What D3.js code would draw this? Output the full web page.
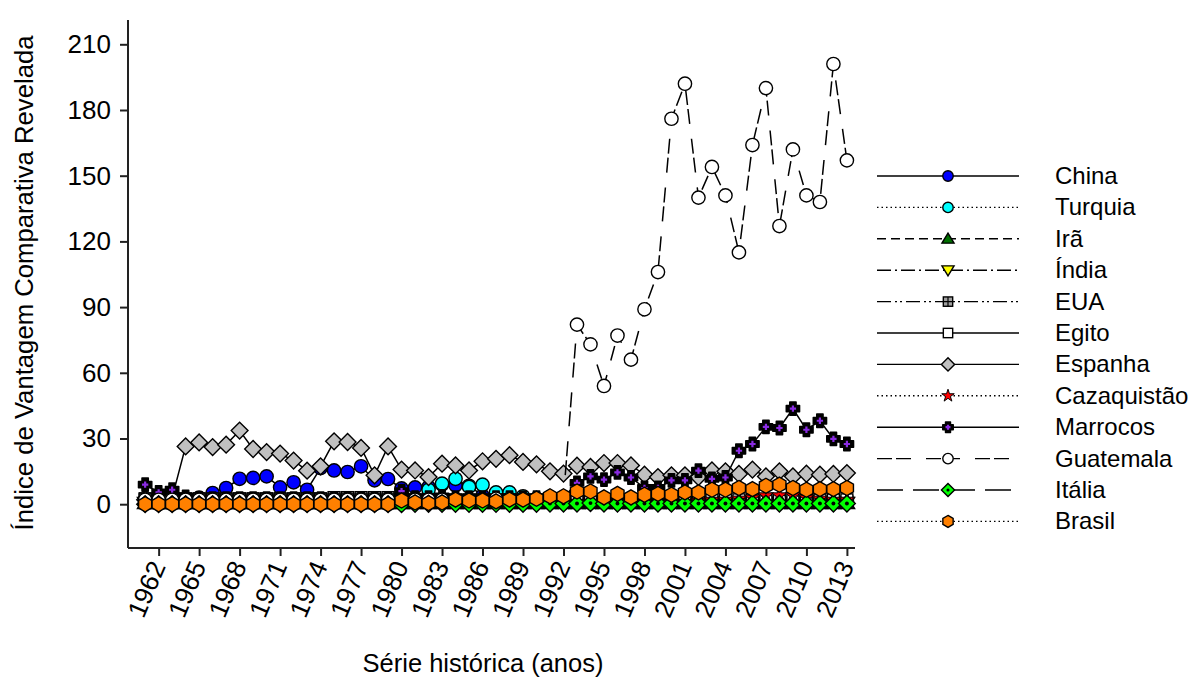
<!DOCTYPE html>
<html><head><meta charset="utf-8">
<script src="https://cdn.jsdelivr.net/npm/d3@7/dist/d3.min.js"></script>
<style>
body{margin:0;background:#fff;}
text{font-family:"Liberation Sans",Arial,sans-serif;fill:#000;}
</style></head>
<body><svg id="c" width="1194" height="684"></svg>
<script>
// ---------- DATA ----------
const years = d3.range(1961, 2014);
const seriesNames = ["China","Turquia","Irã","Índia","EUA","Egito","Espanha","Cazaquistão","Marrocos","Guatemala","Itália","Brasil"];
const china = [2,2,2,2,3,5.1,7.4,11.6,12.0,12.7,7.7,10.0,6.6,16.5,15.4,14.7,17.3,10.9,11.5,7.2,7.7,7.9,9.0,8.6,8.4,3.9,2.0,1.5,1.5,1.5,1.2,1.2,1.2,1.2,1,1,1,1,1,1,1,1,1,1,1,1,1,1,1,1,1,1,1];
const turquia = [1,1,1,1,1,1,1,1,1,1,1,1,1,1,1,1,1,1,1,1,1.5,6.6,9.4,11.6,7.9,8.9,5.4,5.4,3.6,2.5,2,2,2,2,2,1.5,1.5,1.5,1.5,1.5,1.5,1.5,1.5,1.5,1.5,1.5,1.5,1.5,1.5,1.5,1.5,1.5,1.5];
const ira = [0.5,0.5,0.5,0.5,0.5,0.5,0.5,0.5,0.5,0.5,0.5,0.5,0.5,0.5,0.5,0.5,0.5,0.5,0.5,0.5,0.5,0.5,0.5,0.5,0.5,0.5,0.5,0.5,0.5,0.5,0.5,0.5,0.5,0.5,0.5,0.5,0.5,0.5,0.5,0.5,0.5,0.5,0.5,0.5,0.5,0.5,0.5,0.5,0.5,0.5,0.5,0.5,0.5];
const india = [0.6,0.6,0.6,0.6,0.6,0.6,0.6,0.6,0.6,0.6,0.6,0.6,0.6,0.6,0.6,0.6,0.6,0.6,0.6,0.6,0.6,0.6,0.6,0.6,0.6,0.6,0.6,0.6,0.6,0.6,0.6,0.6,0.6,0.6,0.6,0.6,0.6,0.6,0.6,0.6,0.6,0.6,0.6,0.6,0.6,0.6,0.6,0.6,0.6,0.6,0.6,0.6,0.6];
const eua = [2.5,2.5,2.5,2.5,2.5,2.5,2.5,2.5,2.5,2.5,2.5,2.5,2.5,2.5,3,3,3,3,3,2.5,2,2,2,1.5,1.5,1.5,1.5,1.5,1.2,1.2,1.2,1.2,1.2,1,1,1,1,1,1,1,1,1,1,1,1,1,1,1,1,1,1,1,1];
const egito = [2,2,2,2,2,2,2,2,2,2,2,2,2,2,2,2,2,2,2,2,2,2,2,2,2,2,2,2,2,2,2,2,2,2,2,2,2,2,2,2,2,2,2,2,2,2,2,2,2,2,2,2,2];
const espanha = [2,2,3,26.4,28.2,26.1,27.2,33.6,25.2,23.8,23.1,19.9,15.3,17.3,28.7,28.4,25.7,13.2,26.4,15.8,15.4,12.4,18.5,17.7,15.4,19.6,20.7,22.4,19.3,18.2,15.0,14.0,17.6,17.0,18.8,18.8,17.7,13.5,12.4,13.2,13.2,12.4,15.4,15.0,13.8,15.8,12.7,15.0,12.7,13.9,13.5,13.8,14.2];
const cazaquistao = [null,null,null,null,null,null,null,null,null,null,null,null,null,null,null,null,null,null,null,null,null,null,null,null,null,null,null,null,null,null,null,1,1,1,1,1,1,1,1,1,1,1.5,2,2,2.5,3,4,4,4,3,2.5,2,2];
const marrocos = [8.9,5.4,6.6,3.3,2.5,2.5,2.5,2.5,2.5,2.5,2.5,2.5,2.5,2.5,2.5,2.5,2.5,2.5,2.5,6.0,3.0,3.0,3.6,3,3,3,3,3,3,3,3,3,9.7,12.7,11.2,14.5,12.2,7.4,7.4,10.9,10.9,15.3,11.6,12.2,24.4,27.5,35.3,34.8,43.6,34.0,38.1,29.8,27.5];
const guatemala = [2,2,2,2,2,2,2,2,2,2,2,2,2,2,2,2,2,2,2,2,2,2,2,2,2,2,2.5,2.5,2.5,2.5,3,3,82,73,54,77,66,89,106,176,192,140,154,141,115,164,190,127,162,141,138,201,157];
const italia = [0,0,0,0,0,0,0,0,0,0,0,0,0,0,0,0,0,0,0,0,0.2,0.2,0.2,0.2,0.2,0.2,0.2,0.2,0.2,0.2,0.3,0.3,0.3,0.5,0.3,0.3,0.3,0.3,0.3,0.3,0.3,0.3,0.3,0.3,0.3,0.3,0.3,0.3,0.3,0.3,0.3,0.3,0.3];
const brasil = [0,0,0,0,0,0,0,0,0,0,0,0,0,0,0,0,0,0,0,1.7,0.8,0.5,0.8,2.1,1.7,1.7,1.3,2.1,2.1,2.5,3.6,3.6,5.8,5.8,3.1,4.7,3.1,4.3,4.7,4.3,5.4,5.4,6.6,6.6,7.4,6.9,8.4,8.9,7.4,6.6,6.9,6.9,7.4];
const yTicks = [0,30,60,90,120,150,180,210];
const xTicks = d3.range(1962, 2014, 3);
const yTitle = "Índice de Vantagem Comparativa Revelada";
const xTitle = "Série histórica (anos)";

// ---------- STYLES ----------
const seriesValues = [china,turquia,ira,india,eua,egito,espanha,cazaquistao,marrocos,guatemala,italia,brasil];
const dashes = ["none","1.5,3","9,5","14,4,2,4","14,4,2,3,2,4","none","none","1.5,3","none","15,4,15,15","26,10","1.5,3"];
const markers = ["circle","circle","tri","tridown","gridsq","square","diamond","star","cross","circle","gdiamond","hexagon"];
const fills = ["#0000ff","#00ffff","#007000","#ffff00","#a0a0a0","#ffffff","#c0c0c0","#ff0000","#000000","#ffffff","#00ff00","#ff8000"];

const svg = d3.select("#c");
const x = d3.scaleLinear().domain([1959.73, 2013.6]).range([128, 855]);
const y = d3.scaleLinear().domain([-20, 220]).range([548, 22.4]);

function drawMarker(g, type, fill, s){
  const sw = 1.4;
  if(type==="circle"){
    g.append("circle").attr("r", s*0.95).attr("fill",fill).attr("stroke","#000").attr("stroke-width",sw);
  } else if(type==="square" || type==="gridsq"){
    const h = s*0.85;
    g.append("rect").attr("x",-h).attr("y",-h).attr("width",2*h).attr("height",2*h).attr("fill",fill).attr("stroke","#000").attr("stroke-width",sw);
    if(type==="gridsq"){
      g.append("path").attr("d",`M${-h},0H${h}M0,${-h}V${h}`).attr("stroke","#000").attr("stroke-width",1.2);
    }
  } else if(type==="tri" || type==="tridown"){
    const k = type==="tri" ? 1 : -1;
    const h = s*1.05;
    g.append("path").attr("d",`M0,${-k*h}L${h*1.05},${k*h*0.75}L${-h*1.05},${k*h*0.75}Z`).attr("fill",fill).attr("stroke","#000").attr("stroke-width",sw);
  } else if(type==="diamond" || type==="gdiamond"){
    const h = s*1.2;
    g.append("path").attr("d",`M0,${-h}L${h},0L0,${h}L${-h},0Z`).attr("fill",fill).attr("stroke","#000").attr("stroke-width",sw);
    if(type==="gdiamond") g.append("circle").attr("r",s*0.28).attr("fill","#000");
  } else if(type==="hexagon"){
    const pts = d3.range(6).map(i=>{const a=Math.PI/3*i - Math.PI/2; return [s*1.08*Math.cos(a), s*1.08*Math.sin(a)];});
    g.append("path").attr("d","M"+pts.map(p=>p.join(",")).join("L")+"Z").attr("fill",fill).attr("stroke","#000").attr("stroke-width",sw);
  } else if(type==="star"){
    g.append("path").attr("d", d3.symbol(d3.symbolStar, s*s*1.6)()).attr("fill",fill).attr("stroke","#000").attr("stroke-width",1);
  } else if(type==="cross"){
    const a = s*0.95, b = s*0.45;
    g.append("path").attr("d",`M${-b},${-a}H${b}V${-b}H${a}V${b}H${b}V${a}H${-b}V${b}H${-a}V${-b}H${-b}Z`).attr("fill","#000").attr("stroke","#000").attr("stroke-width",1.5).attr("stroke-linejoin","round");
    g.append("path").attr("d",`M${-s*0.45},0H${s*0.45}M0,${-s*0.45}V${s*0.45}`).attr("stroke","#8a2be2").attr("stroke-width",2.2);
  }
}

// ---------- AXES ----------
const yAxis = d3.axisLeft(y).tickValues(yTicks).tickSize(8).tickPadding(9).tickFormat(d3.format("d"));
const gy = svg.append("g").attr("transform","translate(128,0)").call(yAxis);
gy.select(".domain").attr("stroke","#222").attr("stroke-width",2).attr("d","M0,20V548");
gy.selectAll(".tick line").attr("stroke","#222").attr("stroke-width",2);
gy.selectAll(".tick text").attr("font-size",26).style("font-family",'"Liberation Sans",Arial,sans-serif');

const xAxis = d3.axisBottom(x).tickValues(xTicks).tickSize(8).tickFormat(d3.format("d"));
const gx = svg.append("g").attr("transform","translate(0,548)").call(xAxis);
gx.select(".domain").attr("stroke","#222").attr("stroke-width",2).attr("d","M128,0H855");
gx.selectAll(".tick line").attr("stroke","#222").attr("stroke-width",2);
gx.selectAll(".tick text").attr("font-size",26).style("font-family",'"Liberation Sans",Arial,sans-serif')
  .attr("text-anchor","end").attr("dy",null).attr("y",null)
  .attr("transform","translate(7,18) rotate(-67)");

// ---------- SERIES ----------
const plot = svg.append("g");
seriesNames.forEach((name,i)=>{
  const vals = seriesValues[i];
  const pts = years.map((yr,j)=>({yr, v:vals[j]})).filter(d=>d.v!==null);
  const g = plot.append("g");
  g.append("path").datum(pts)
    .attr("d", d3.line().x(d=>x(d.yr)).y(d=>y(d.v)))
    .attr("fill","none").attr("stroke","#000").attr("stroke-width",1.5)
    .attr("stroke-dasharray", dashes[i]==="none"?null:dashes[i]);
  pts.forEach(d=>{
    const m = g.append("g").attr("transform",`translate(${x(d.yr)},${y(d.v)})`);
    drawMarker(m, markers[i], fills[i], 7);
  });
});

// ---------- LEGEND ----------
const legend = svg.append("g");
seriesNames.forEach((name,i)=>{
  const ly = 176 + i*31.4;
  legend.append("line").attr("x1",877).attr("x2",1019).attr("y1",ly).attr("y2",ly)
    .attr("stroke","#000").attr("stroke-width",1.4)
    .attr("stroke-dasharray", dashes[i]==="none"?null:dashes[i]);
  const m = legend.append("g").attr("transform",`translate(948,${ly})`);
  drawMarker(m, markers[i], fills[i], 5.5);
  legend.append("text").attr("x",1055).attr("y",ly+8).attr("font-size",24).text(name);
});

// ---------- TITLES ----------
svg.append("text").attr("transform","translate(33,283) rotate(-90)").attr("text-anchor","middle").attr("font-size",25.7).text(yTitle);
svg.append("text").attr("x",483).attr("y",672).attr("text-anchor","middle").attr("font-size",25.5).text(xTitle);
</script></body></html>
